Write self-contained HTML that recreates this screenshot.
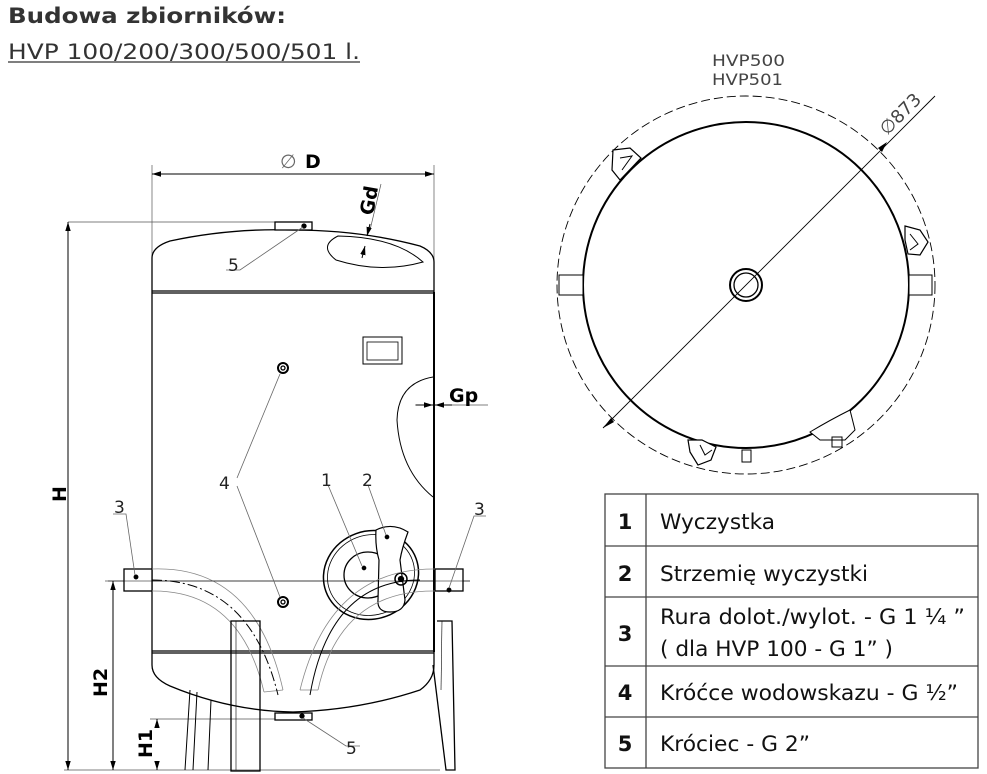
<!DOCTYPE html>
<html><head><meta charset="utf-8"><style>
html,body{margin:0;padding:0;background:#fff;width:987px;height:774px;overflow:hidden}
svg{display:block}
.d{font-family:"DejaVu Sans","Liberation Sans",sans-serif}
.t{font-family:"DejaVu Sans","Liberation Sans",sans-serif}
</style></head><body>
<svg width="987" height="774" viewBox="0 0 987 774" xmlns="http://www.w3.org/2000/svg">
<defs>
<marker id="a" viewBox="0 0 10 10" refX="10" refY="5" markerWidth="9" markerHeight="9" orient="auto-start-reverse"><path d="M0,2 L10,5 L0,8z" fill="#000"/></marker>
</defs>
<text class="d" x="8" y="23" font-size="21" font-weight="bold" fill="#333" textLength="278" lengthAdjust="spacingAndGlyphs">Budowa zbiorników:</text>
<text class="d" x="8" y="59" font-size="21" fill="#333" textLength="352" lengthAdjust="spacingAndGlyphs">HVP 100/200/300/500/501 l.</text>
<line x1="8" y1="62" x2="360" y2="62" stroke="#333" stroke-width="1.2"/>

<!-- side view -->
<g fill="none" stroke="#000" stroke-width="1.3">
<g stroke-width="0.7" stroke="#555">
<line x1="152" y1="165" x2="152" y2="262"/><line x1="434" y1="165" x2="434" y2="262"/>
<line x1="68" y1="222" x2="278" y2="222"/>
<line x1="64" y1="770" x2="440" y2="770"/>
<line x1="108" y1="581" x2="470" y2="581"/>
<line x1="150" y1="719" x2="280" y2="719"/>
<line x1="381" y1="184" x2="370" y2="230"/>
<line x1="415" y1="405" x2="488" y2="405"/>
</g>
<line x1="152" y1="174" x2="434" y2="174" stroke-width="1" marker-start="url(#a)" marker-end="url(#a)"/>
<line x1="68" y1="222" x2="68" y2="770" stroke-width="1" marker-start="url(#a)" marker-end="url(#a)"/>
<line x1="113" y1="581" x2="113" y2="770" stroke-width="1" marker-start="url(#a)" marker-end="url(#a)"/>
<line x1="157" y1="727" x2="157" y2="719" stroke-width="1" marker-end="url(#a)"/>
<line x1="157" y1="762" x2="157" y2="770" stroke-width="1" marker-end="url(#a)"/>
<line x1="370" y1="224" x2="367" y2="236" stroke-width="1" marker-end="url(#a)"/>
<line x1="362" y1="258" x2="365" y2="246" stroke-width="1" marker-end="url(#a)"/>
<line x1="416" y1="405" x2="433" y2="405" stroke-width="1" marker-end="url(#a)"/>
<line x1="452" y1="405" x2="435" y2="405" stroke-width="1" marker-end="url(#a)"/>
<path d="M152,292 L152,258 Q152,247 170,241 Q230,228 293,230 Q360,230 420,246 Q434,252 434,262 L434,292"/>
<line x1="152" y1="291" x2="434" y2="291"/><line x1="152" y1="293" x2="434" y2="293"/>
<line x1="152" y1="292" x2="152" y2="652"/><line x1="434" y1="292" x2="434" y2="652" stroke-width="2"/>
<line x1="152" y1="651" x2="434" y2="651"/><line x1="152" y1="653" x2="434" y2="653"/>
<path d="M152,652 L152,665 Q152,678 170,686 Q230,711 293,712 Q360,710 420,690 Q434,680 434,665 L434,652"/>
<rect x="275" y="222" width="37" height="8" fill="#fff"/>
<rect x="275" y="713" width="37" height="7" fill="#fff"/>
<circle cx="304" cy="226" r="2" fill="#000"/><circle cx="302" cy="716" r="2" fill="#000"/>
<path d="M338,236 Q395,237 423,262 Q380,274 336,260 Q318,246 338,236z" stroke-width="1"/>
<path d="M433,377 Q398,383 397,420 Q400,470 433,497" stroke-width="1"/>
<rect x="363" y="337" width="39" height="27" stroke-width="1"/>
<rect x="367" y="342" width="31" height="18" stroke-width="0.8"/>
<circle cx="283" cy="368" r="5" stroke-width="2"/><circle cx="283" cy="368" r="2"/>
<circle cx="283" cy="602" r="5" stroke-width="2"/><circle cx="283" cy="602" r="2"/>
<ellipse cx="371" cy="575" rx="48" ry="44" transform="rotate(-20 371 575)" stroke-width="1.5"/>
<ellipse cx="371" cy="575" rx="44" ry="40" transform="rotate(-20 371 575)" stroke-width="0.8"/>
<ellipse cx="368" cy="575" rx="24" ry="23" stroke-width="1.3"/>
<path d="M376,530 Q392,522 408,532 Q402,548 400,560 L405,600 Q404,612 390,612 Q377,612 378,600 L379,560 Q375,546 376,530z" fill="#fff" stroke-width="1.2"/>
<circle cx="401" cy="579" r="6" stroke-width="1.5"/><circle cx="401" cy="579" r="2.5" fill="#000"/>
<circle cx="364" cy="568" r="1.7" fill="#000"/><circle cx="387" cy="537" r="1.7" fill="#000"/>
<rect x="124" y="569" width="28" height="22" fill="#fff"/>
<rect x="435" y="569" width="28" height="22" fill="#fff"/>
<circle cx="136" cy="577" r="1.8" fill="#000"/><circle cx="449" cy="590" r="1.8" fill="#000"/>
<g stroke="#888" stroke-width="0.8">
<path d="M152,569 Q255,565 283,690"/><path d="M152,591 Q240,590 264,692"/>
<path d="M283,690 L264,692"/>
<path d="M435,569 Q330,568 300,690"/><path d="M435,591 Q340,590 318,690"/>
<path d="M300,690 L318,690"/>
</g>
<path d="M152,580 Q250,580 278,695" stroke-width="1" stroke-dasharray="10,3,2,3"/>
<path d="M420,580 Q330,580 310,695" stroke-width="1"/>
<line x1="105" y1="581" x2="470" y2="581" stroke-width="0.6"/>
<rect x="231" y="621" width="29" height="150" fill="none"/>
<line x1="236" y1="621" x2="236" y2="770" stroke-width="0.6"/>
<path d="M190,690 L185,770 M197,692 L193,770 M211,700 L208,770" stroke-width="1"/>
<path d="M437,621 L452,621 L455,770 L446,770 L433,665"/>
<line x1="442" y1="621" x2="441" y2="690" stroke-width="0.6"/>
<g stroke="#666" stroke-width="0.8">
<path d="M303,227 L240,270 L226,270"/>
<path d="M303,718 L346,746 L360,746"/>
<path d="M237,478 L280,374"/><path d="M237,486 L280,597"/>
<path d="M328,485 L362,566"/><path d="M368,485 L386,535"/>
<path d="M113,514 L126,514 L135,575"/>
<path d="M486,516 L474,516 L449,588"/>
</g>
</g>
<g class="d" font-size="17" fill="#222">
<text x="228" y="271">5</text><text x="346" y="754">5</text>
<text x="219" y="489">4</text><text x="321" y="486">1</text><text x="362" y="486">2</text>
<text x="114" y="513">3</text><text x="474" y="515">3</text>
</g>
<g class="d" font-weight="bold" fill="#000">
<text x="305" y="168" font-size="19">D</text>
<text x="280" y="168" font-size="19" font-weight="normal" fill="#666">∅</text>
<text transform="translate(373,216) rotate(-80)" font-size="19">Gd</text>
<text x="449" y="402" font-size="19">Gp</text>
<text transform="translate(66,502) rotate(-90)" font-size="19">H</text>
<text transform="translate(107,697) rotate(-90)" font-size="19">H2</text>
<text transform="translate(152,758) rotate(-90)" font-size="19">H1</text>
</g>

<text class="d" x="712" y="66" font-size="16" fill="#444" textLength="73" lengthAdjust="spacingAndGlyphs">HVP500</text>
<text class="d" x="712" y="85" font-size="16" fill="#444" textLength="71" lengthAdjust="spacingAndGlyphs">HVP501</text>
<g fill="none" stroke="#000">
<circle cx="746" cy="285" r="189" stroke-width="0.9" stroke-dasharray="9,4"/>
<circle cx="746" cy="285" r="163" stroke-width="2"/>
<circle cx="746" cy="285" r="16" stroke-width="2"/><circle cx="746" cy="285" r="12" stroke-width="1.3"/>
<line x1="603" y1="428" x2="935" y2="96" stroke-width="0.9"/>
<rect x="559" y="275" width="24" height="20" fill="#fff" stroke-width="1"/>
<rect x="909" y="275" width="23" height="20" fill="#fff" stroke-width="1"/>
<rect x="742" y="450" width="9" height="12" fill="#fff" stroke-width="1"/>
<path d="M613,150 L630,148 L641,158 L620,180 L612,170z" fill="#fff" stroke-width="1.2"/>
<path d="M620,158 L632,156 L622,170" stroke-width="1"/>
<path d="M905,226 L920,230 L928,242 L920,255 L908,254 L905,240z" fill="#fff" stroke-width="1.2"/>
<path d="M910,234 L918,244 L910,250" stroke-width="1"/>
<path d="M688,440 L702,440 L716,447 L711,460 L698,465 L690,452z" fill="#fff" stroke-width="1.2"/>
<path d="M700,445 L705,455 L712,450" stroke-width="1"/>
<path d="M810,432 Q830,420 850,410 L855,430 L845,440 L820,440z" fill="#fff" stroke-width="1"/>
<rect x="832" y="437" width="10" height="10" stroke-width="1"/>
</g>
<path d="M603,428 L611,418 L614,422z" fill="#000"/>
<path d="M887,142 L882,152 L878,148z" fill="#000"/>
<text class="d" transform="translate(887,136) rotate(-45)" font-size="18" fill="#444">∅873</text>

<g stroke="#444" stroke-width="1.3" fill="none">
<rect x="605" y="494" width="373" height="274"/>
<line x1="646" y1="494" x2="646" y2="768"/>
<line x1="605" y1="546" x2="978" y2="546"/>
<line x1="605" y1="597" x2="978" y2="597"/>
<line x1="605" y1="666" x2="978" y2="666"/>
<line x1="605" y1="717" x2="978" y2="717"/>
</g>
<g class="t" font-size="21" fill="#111">
<g font-weight="bold" text-anchor="middle">
<text x="625" y="529">1</text><text x="625" y="581">2</text><text x="625" y="641">3</text><text x="625" y="700">4</text><text x="625" y="751">5</text>
</g>
<text x="660" y="529" textLength="115" lengthAdjust="spacingAndGlyphs">Wyczystka</text>
<text x="660" y="581" textLength="208" lengthAdjust="spacingAndGlyphs">Strzemię wyczystki</text>
<text x="660" y="624" textLength="305" lengthAdjust="spacingAndGlyphs">Rura dolot./wylot. - G 1 ¼ ”</text>
<text x="660" y="656" textLength="233" lengthAdjust="spacingAndGlyphs">( dla HVP 100 - G 1” )</text>
<text x="660" y="700" textLength="298" lengthAdjust="spacingAndGlyphs">Króćce wodowskazu - G ½”</text>
<text x="660" y="751" textLength="150" lengthAdjust="spacingAndGlyphs">Króciec - G 2”</text>
</g>
</svg>
</body></html>
